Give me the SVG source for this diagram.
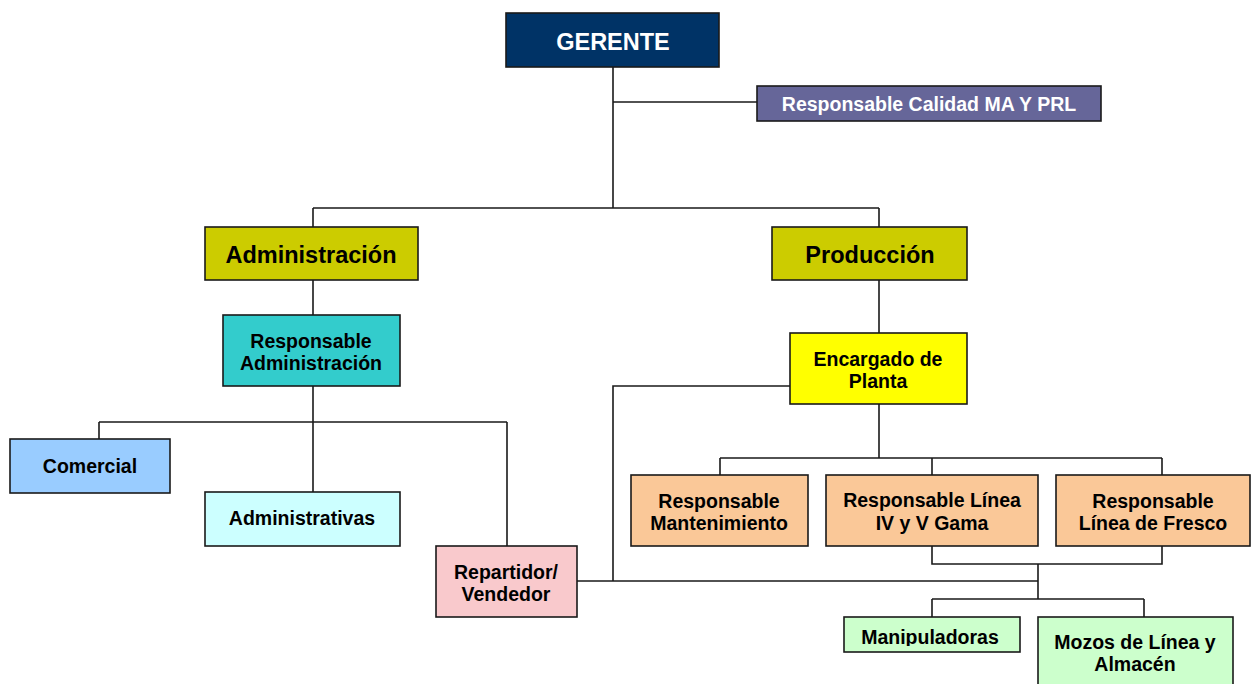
<svg xmlns="http://www.w3.org/2000/svg" width="1259" height="684" viewBox="0 0 1259 684">
<style>
.box{stroke:#1a1a1a;stroke-width:1.6}
.t{font-family:"Liberation Sans",Arial,sans-serif;font-weight:bold;text-anchor:middle;fill:#000;font-size:19.5px}
.w{fill:#fff}
.big{font-size:23.5px}
.c{fill:none;stroke:#1a1a1a;stroke-width:1.6}
</style>
<defs>
<clipPath id="clipManip"><rect x="844" y="617" width="176" height="29"/></clipPath>
</defs>
<rect width="1259" height="684" fill="#fff"/>
<g id="connectors">
<path class="c" d="M613 67V208M613 102H757M313 208H879M313 208V227M879 208V227"/>
<path class="c" d="M313 280V315M313 386V492M99 422H507M99 422V439M507 422V546"/>
<path class="c" d="M879 280V333M790 386H613V581M577 581H1038"/>
<path class="c" d="M879 404V458M720 458H1162M720 458V475M932 458V475M1162 458V475"/>
<path class="c" d="M932 546V564H1162V546M1038 564V599M932 599H1144M932 599V617M1144 599V617"/>
</g>
<g id="gerente"><rect class="box" x="506" y="13" width="213" height="54" fill="#003366"/><text class="t w big" x="613" y="50">GERENTE</text></g>
<g id="calidad"><rect class="box" x="757" y="86" width="344" height="35" fill="#666699"/><text class="t w" x="929" y="111">Responsable Calidad MA Y PRL</text></g>
<g id="administracion"><rect class="box" x="205" y="227" width="213" height="53" fill="#CCCC00"/><text class="t big" x="311" y="263">Administración</text></g>
<g id="produccion"><rect class="box" x="772" y="227" width="195" height="53" fill="#CCCC00"/><text class="t big" x="870" y="263">Producción</text></g>
<g id="resp-admin"><rect class="box" x="223" y="315" width="177" height="71" fill="#33CCCC"/><text class="t" x="311" y="348">Responsable</text><text class="t" x="311" y="370">Administración</text></g>
<g id="comercial"><rect class="box" x="10" y="439" width="160" height="54" fill="#99CCFF"/><text class="t" x="90" y="473">Comercial</text></g>
<g id="administrativas"><rect class="box" x="205" y="492" width="195" height="54" fill="#CCFFFF"/><text class="t" x="302" y="525">Administrativas</text></g>
<g id="repartidor"><rect class="box" x="436" y="546" width="141" height="71" fill="#F9C9CC"/><text class="t" x="506" y="579">Repartidor/</text><text class="t" x="506" y="601">Vendedor</text></g>
<g id="encargado"><rect class="box" x="790" y="333" width="177" height="71" fill="#FFFF00"/><text class="t" x="878" y="366">Encargado de</text><text class="t" x="878" y="388">Planta</text></g>
<g id="mantenimiento"><rect class="box" x="631" y="475" width="177" height="71" fill="#FAC898"/><text class="t" x="719" y="508">Responsable</text><text class="t" x="719" y="530">Mantenimiento</text></g>
<g id="linea-iv-v"><rect class="box" x="826" y="475" width="212" height="71" fill="#FAC898"/><text class="t" x="932" y="507">Responsable Línea</text><text class="t" x="932" y="530">IV y V Gama</text></g>
<g id="linea-fresco"><rect class="box" x="1056" y="475" width="194" height="71" fill="#FAC898"/><text class="t" x="1153" y="508">Responsable</text><text class="t" x="1153" y="530">Línea de Fresco</text></g>
<g id="manipuladoras"><rect class="box" x="844" y="617" width="176" height="35" fill="#CCFFCC"/><text class="t" x="930" y="644" clip-path="url(#clipManip)">Manipuladoras</text></g>
<g id="mozos"><rect class="box" x="1038" y="617" width="195" height="80" fill="#CCFFCC"/><text class="t" x="1135" y="649">Mozos de Línea y</text><text class="t" x="1135" y="671">Almacén</text></g>
</svg>
